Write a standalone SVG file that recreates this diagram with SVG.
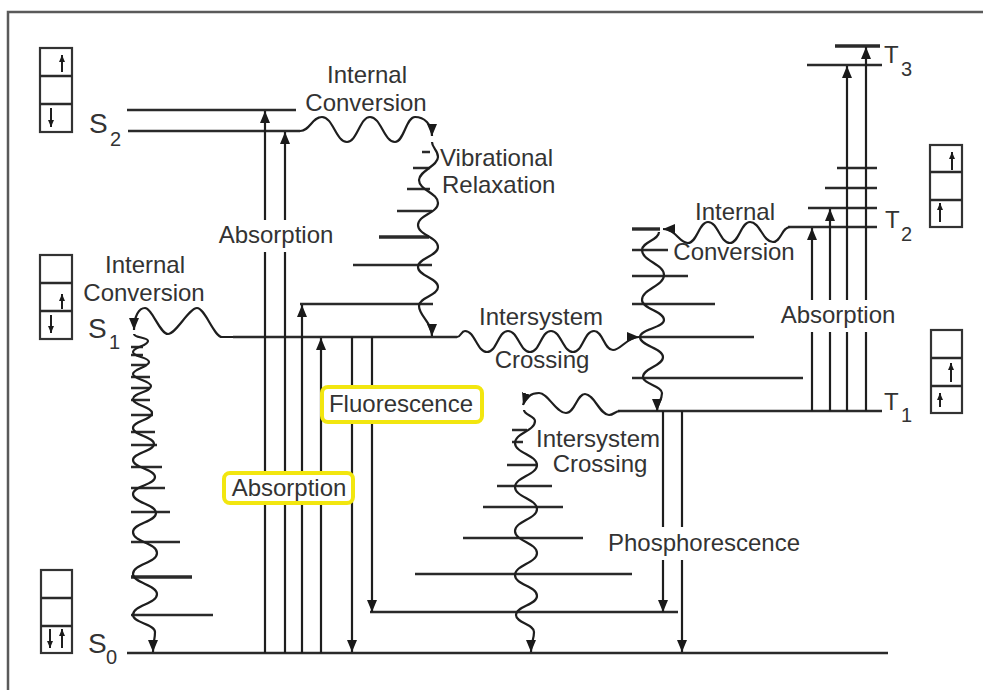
<svg xmlns="http://www.w3.org/2000/svg" width="983" height="690" viewBox="0 0 983 690">
<defs>
<marker id="ah" markerUnits="userSpaceOnUse" markerWidth="12" markerHeight="10" viewBox="0 0 12 10" refX="12" refY="5" orient="auto">
<path d="M0,0 L12,5 L0,10 z" fill="#1a1a1a"/>
</marker>
<marker id="sm" markerUnits="userSpaceOnUse" markerWidth="7" markerHeight="6" viewBox="0 0 7 6" refX="7" refY="3" orient="auto">
<path d="M0,0 L7,3 L0,6 z" fill="#1a1a1a"/>
</marker>
<style>
.lv{stroke:#2a2a2a;stroke-width:2.4;fill:none}
.thk{stroke-width:3.4}
.ar{stroke:#1e1e1e;stroke-width:2.2;fill:none;marker-end:url(#ah)}
.wv{stroke:#1e1e1e;stroke-width:2.2;fill:none;marker-end:url(#ah)}
.box{stroke:#333;stroke-width:2.2;fill:#fff}
.sp{stroke:#1e1e1e;stroke-width:2;fill:none;marker-end:url(#sm)}
text{font-family:"Liberation Sans",Arial,sans-serif;fill:#333}
.t{font-size:24px;text-anchor:middle}
.big{font-size:28px}
.tb{font-size:24px}
.sub{font-size:20px}
.bg{fill:#fff}
.hl{fill:#fff;stroke:#f2e60f;stroke-width:4}
</style>
</defs>
<rect width="983" height="690" fill="#fff"/>
<g id="frame"><path d="M8,690 V12 H983" stroke="#5a5a5a" stroke-width="2.5" fill="none"/></g>

<g id="S2">
<path class="lv" d="M127,110 H296 M128,131 H300"/>
<text class="big" x="89" y="133">S</text><text class="sub" x="110" y="146">2</text>
<rect class="box" x="40" y="48" width="32" height="84"/>
<path class="lv" d="M40,76 H72 M40,104 H72"/>
<path class="sp" d="M62,72 V55"/><path class="sp" d="M51,108 V127"/>
</g>

<g id="S1">
<path class="lv" d="M233,337 H457"/>
<path class="lv" d="M422,152 H430 M413,168 H430 M407,189 H430 M397,211 H432 M353,265 H432 M300,304 H433"/>
<path class="lv thk" d="M379,237 H429"/>
<text class="big" x="88" y="338">S</text><text class="sub" x="109" y="349">1</text>
<rect class="box" x="40" y="255" width="32" height="84"/>
<path class="lv" d="M40,283 H72 M40,311 H72"/>
<path class="sp" d="M62,309 V294"/><path class="sp" d="M51,315 V333"/>
</g>

<g id="S0">
<path class="lv" d="M127,653 H888"/>
<path class="lv" d="M131,347 H143 M131,355 H143 M131,365 H147 M131,377 H150 M131,388 H150 M131,400 H150 M131,415 H153 M131,432 H155 M131,445 H157 M131,467 H162 M131,488 H165 M131,512 H170 M131,542 H180 M131,615 H213"/>
<path class="lv thk" d="M131,577 H192"/>
<path class="lv" d="M512,430 H527 M512,442 H523 M507,465 H538 M497,486 H552 M483,507 H563 M463,538 H583 M415,574 H632 M370,612 H678"/>
<text class="big" x="88" y="653">S</text><text class="sub" x="106" y="664">0</text>
<rect class="box" x="41" y="570" width="31" height="83"/>
<path class="lv" d="M41,598 H72 M41,626 H72"/>
<path class="sp" d="M50,629 V648"/><path class="sp" d="M62,648 V629"/>
</g>

<g id="T1">
<path class="lv" d="M618,411 H882"/>
<path class="lv thk" d="M632,229 H660"/>
<path class="lv" d="M632,250 H668 M632,276 H688 M632,304 H715 M640,337 H754 M632,378 H803"/>
<text class="tb" x="884" y="410">T</text><text class="sub" x="901" y="422">1</text>
<rect class="box" x="931" y="330" width="31" height="83"/>
<path class="lv" d="M931,358 H962 M931,386 H962"/>
<path class="sp" d="M951,382 V363"/><path class="sp" d="M940,407 V393"/>
</g>

<g id="T2">
<path class="lv" d="M788,227 H877 M808,208 H877 M825,188 H877 M837,168 H877"/>
<text class="tb" x="885" y="228">T</text><text class="sub" x="901" y="241">2</text>
<rect class="box" x="930" y="145" width="32" height="82"/>
<path class="lv" d="M930,172 H962 M930,200 H962"/>
<path class="sp" d="M952,170 V152"/><path class="sp" d="M940,222 V203"/>
</g>

<g id="T3">
<path class="lv" d="M807,65 H882"/>
<path class="lv thk" d="M835,46 H880"/>
<text class="tb" x="884" y="63">T</text><text class="sub" x="901" y="76">3</text>
</g>

<g id="connectors">
<path class="ar" d="M265,653 V111"/>
<path class="ar" d="M285,653 V132"/>
<path class="ar" d="M302,653 V305"/>
<path class="ar" d="M321,653 V338"/>
<path class="ar" d="M352,337 V652"/>
<path class="ar" d="M372,337 V612"/>
<path class="ar" d="M812,411 V228"/>
<path class="ar" d="M830,411 V209"/>
<path class="ar" d="M847,411 V66"/>
<path class="ar" d="M866,411 V47"/>
<path class="ar" d="M663,411 V612"/>
<path class="ar" d="M682,411 V652"/>
<path class="wv" d="M300,131 C310,131 312,117 322,117 C333,117 336,142 347,142 C357,142 360,117 370,117 C381,117 384,142 395,142 C404,142 406,117 415,117 C424,117 432,124 432,136"/>
<path class="wv" d="M432,142 C432,148 438,150 438,157 C438,166 419,171 419,180 C419,190 438,193 438,203 C438,213 418,215 418,225 C418,235 438,237 438,247 C438,256 418,258 418,267 C418,276 438,278 438,287 C438,296 419,297 419,306 C419,316 432,322 432,336"/>
<path class="wv" d="M233,337 L222,337 C214,337 205,308 197,308 C189,308 176,334 168,334 C160,334 152,308 145,308 C139,308 134,316 134,330"/>
<path class="wv" d="M134,334 C134,338 148,337 148,341 C148,346 133,347 133,352 C133,357 149,357 149,362 C149,367 133,369 133,374 C133,379 151,381 151,386 C151,392 133,393 133,399 C133,405 152,407 152,413 C152,420 133,421 133,428 C133,435 154,437 154,444 C154,451 133,453 133,460 C133,468 155,469 155,477 C155,485 133,486 133,494 C133,503 156,504 156,513 C156,522 133,523 133,532 C133,542 157,543 157,553 C157,563 133,564 133,574 C133,583 157,585 157,594 C157,604 133,605 133,615 C133,623 155,624 155,632 C155,640 153,642 153,652"/>
<path class="wv" d="M457,337 C461,337 461,331 465,331 C475,331 477,352 487,352 C497,352 498,331 508,331 C518,331 520,352 530,352 C540,352 541,331 551,331 C561,331 563,352 573,352 C583,352 584,331 594,331 C603,331 604,350 613,350 C621,350 627,337 639,337"/>
<path class="wv" d="M790,227 C782,227 781,242 773,242 C763,242 760,222 750,222 C741,222 739,243 730,243 C720,243 718,222 708,222 C699,222 697,243 688,243 C679,243 676,229 663,229"/>
<path class="wv" d="M659,232 C659,240 642,242 642,250 C642,261 664,264 664,275 C664,286 642,289 642,300 C642,309 664,311 664,320 C664,328 640,329 640,337 C640,346 663,348 663,357 C663,366 643,368 643,377 C643,384 662,386 662,393 C662,401 657,403 657,411"/>
<path class="wv" d="M620,411 C615,411 614,415 609,415 C600,415 594,394 585,394 C577,394 575,413 566,413 C556,413 548,393 539,393 C532,393 526,396 523,405"/>
<path class="wv" d="M524,410 C524,415 535,416 535,421 C535,431 515,433 515,443 C515,453 537,455 537,465 C537,475 515,477 515,487 C515,497 537,499 537,509 C537,519 515,521 515,531 C515,541 537,543 537,553 C537,563 515,565 515,575 C515,585 537,586 537,596 C537,605 516,606 516,615 C516,623 534,624 534,632 C534,640 531,642 531,652"/>
</g>

<g id="labels">
<text class="t" x="367" y="83">Internal</text>
<text class="t" x="366" y="111">Conversion</text>
<text class="tb" x="440" y="166">Vibrational</text>
<text class="tb" x="442" y="193">Relaxation</text>
<rect class="bg" x="216" y="220" width="122" height="32"/>
<text class="t" x="276" y="243">Absorption</text>
<text class="t" x="145" y="273">Internal</text>
<text class="t" x="144" y="301">Conversion</text>
<text class="t" x="541" y="325">Intersystem</text>
<text class="t" x="542" y="368">Crossing</text>
<rect class="hl" x="322" y="387" width="160" height="35" rx="6"/>
<text class="t" x="401" y="412">Fluorescence</text>
<text class="t" x="598" y="447">Intersystem</text>
<text class="t" x="600" y="472">Crossing</text>
<rect class="hl" x="224" y="473" width="129" height="30" rx="6"/>
<text class="t" x="289" y="496">Absorption</text>
<text class="t" x="735" y="220">Internal</text>
<text class="t" x="734" y="260">Conversion</text>
<rect class="bg" x="778" y="300" width="122" height="32"/>
<text class="t" x="838" y="323">Absorption</text>
<rect class="bg" x="603" y="527" width="202" height="33"/>
<text class="t" x="704" y="551">Phosphorescence</text>
</g>
</svg>
